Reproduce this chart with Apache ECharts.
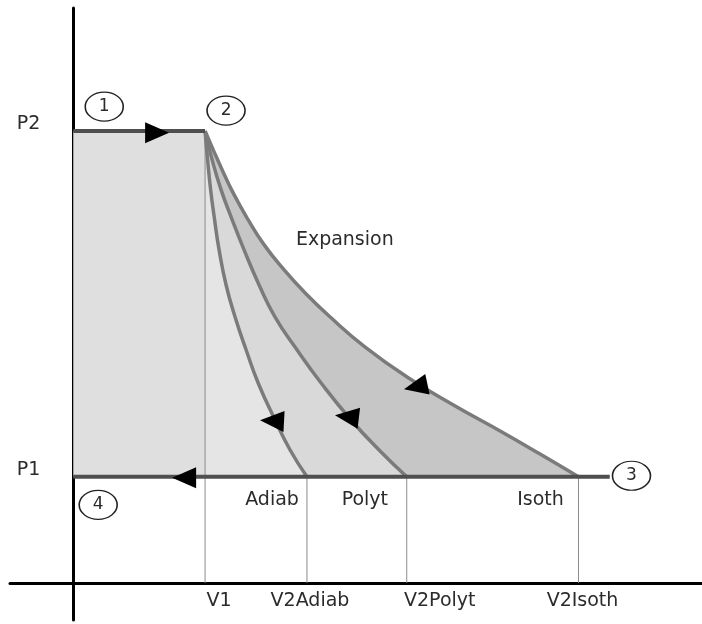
<!DOCTYPE html>
<html>
<head>
<meta charset="utf-8">
<title>P-V expansion diagram</title>
<script src="https://cdn.jsdelivr.net/npm/echarts@6/dist/echarts.min.js"></script>
<style>
  html, body { margin: 0; padding: 0; background: #fff; }
  #chart { width: 702px; height: 624px; }
</style>
</head>
<body>
<div id="chart"></div>
<script>
// values, P1 = 1 and V1 = 1
const P1 = 1.0;
const P2 = 4.26;
const pressureTicks = [P1, P2];
const pressureLabels = ['P1', 'P2'];
const volumeTicks = [1.0, 1.773, 2.53, 3.833];
const volumeLabels = ['V1', 'V2Adiab', 'V2Polyt', 'V2Isoth'];

const adiabCurve = [
  [1.0, 4.26], [1.019, 3.991], [1.042, 3.708], [1.072, 3.425], [1.106, 3.142],
  [1.159, 2.811], [1.227, 2.509], [1.311, 2.198], [1.402, 1.887], [1.53, 1.538],
  [1.644, 1.255], [1.773, 1.0]
];
const polytCurve = [
  [1.0, 4.26], [1.053, 3.991], [1.121, 3.708], [1.205, 3.425], [1.295, 3.142],
  [1.409, 2.811], [1.53, 2.509], [1.697, 2.198], [1.879, 1.887], [2.106, 1.538],
  [2.318, 1.255], [2.53, 1.0]
];
const isothCurve = [
  [1.0, 4.26], [1.061, 4.085], [1.129, 3.896], [1.22, 3.66], [1.326, 3.425],
  [1.447, 3.189], [1.598, 2.953], [1.765, 2.726], [1.947, 2.509], [2.212, 2.226],
  [2.553, 1.925], [2.894, 1.67], [3.235, 1.434], [3.538, 1.217], [3.833, 1.0]
];

const isobarP2 = [[0, P2], [1.0, P2]];
const isobarP1 = [[0, P1], [4.07, P1]];

const stateNames = ['1', '2', '3', '4'];
const statePoints = [[0.235, 4.49], [1.159, 4.453], [4.235, 1.01], [0.189, 0.736]];

const arrowPoints = [[0.636, 4.245], [0.841, 0.99], [1.508, 1.528], [2.076, 1.566], [2.598, 1.849]];
const arrowAngles = [-90, 90, 87, 83, 102];

const noteNames = ['Expansion', 'Adiab', 'Polyt', 'Isoth'];
const notePoints = [[2.06, 3.236], [1.508, 0.783], [2.212, 0.783], [3.545, 0.783]];

const font = 'DejaVu Sans';
const textColor = '#2b2b2b';

// horizontal nudges so the volume labels sit like in the sketch
const volumeLabelShift = { V1: 14, V2Adiab: 3, V2Polyt: 33, V2Isoth: 4 };

const chart = echarts.init(document.getElementById('chart'));

function areaSeries(data, color, smooth) {
  return {
    type: 'line',
    data: data,
    smooth: smooth,
    symbol: 'none',
    silent: true,
    z: 1,
    lineStyle: { width: 0 },
    areaStyle: { color: color, opacity: 1, origin: P1 }
  };
}

function curveSeries(data, color, width, smooth) {
  return {
    type: 'line',
    data: data,
    smooth: smooth,
    symbol: 'none',
    silent: true,
    z: 3,
    lineStyle: { color: color, width: width }
  };
}

const dropLines = volumeTicks.map((v, i) =>
  Object.assign(curveSeries([[v, i === 0 ? P2 : P1], [v, 0]], '#8c8c8c', 1, false), { z: 2 })
);

const baseText = { fontFamily: font, fontSize: 19, color: textColor };

const option = {
  animation: false,
  grid: { left: 10, right: 0, top: 8, bottom: 4, outerBoundsMode: 'none' },
  xAxis: {
    type: 'value',
    min: -0.48,
    max: 4.77,
    axisLine: { onZero: true, lineStyle: { color: '#000', width: 3 } },
    axisTick: { show: false },
    axisLabel: { show: false },
    splitLine: { show: false }
  },
  yAxis: {
    type: 'value',
    min: -0.35,
    max: 5.42,
    axisLine: { onZero: true, lineStyle: { color: '#000', width: 3 } },
    axisTick: { show: false },
    axisLabel: { show: false },
    splitLine: { show: false }
  },
  series: [
    areaSeries(isobarP2, '#dfdfdf', false),
    areaSeries(isothCurve, '#c6c6c6', 0.5),
    areaSeries(polytCurve, '#d9d9d9', 0.5),
    areaSeries(adiabCurve, '#e5e5e5', 0.5),
    ...dropLines,
    curveSeries(adiabCurve, '#7b7b7b', 3.5, 0.5),
    curveSeries(polytCurve, '#7b7b7b', 3.5, 0.5),
    curveSeries(isothCurve, '#7b7b7b', 3.5, 0.5),
    curveSeries(isobarP2, '#4f4f4f', 4, false),
    curveSeries(isobarP1, '#4f4f4f', 4, false),
    {
      // arrow heads
      type: 'scatter',
      silent: true,
      z: 5,
      symbol: 'triangle',
      symbolSize: [21, 24],
      itemStyle: { color: '#000', opacity: 1 },
      data: arrowPoints.map((p, i) => ({ value: p, symbolRotate: arrowAngles[i] }))
    },
    {
      // numbered states
      type: 'scatter',
      silent: true,
      z: 5,
      symbol: 'path://M0,10a10,10 0 1,0 20,0a10,10 0 1,0 -20,0z',
      symbolSize: [38, 29],
      itemStyle: { color: '#fff', borderColor: '#222', borderWidth: 1.4, opacity: 1 },
      label: Object.assign({
        show: true,
        position: 'inside',
        formatter: (p) => stateNames[p.dataIndex]
      }, baseText, { fontSize: 17 }),
      data: statePoints
    },
    {
      // text notes
      type: 'scatter',
      silent: true,
      z: 5,
      symbolSize: 0,
      itemStyle: { opacity: 1 },
      label: Object.assign({
        show: true,
        position: 'inside',
        formatter: (p) => noteNames[p.dataIndex]
      }, baseText),
      data: notePoints
    },
    {
      // volume labels under the V axis
      type: 'scatter',
      silent: true,
      z: 5,
      symbolSize: 0,
      itemStyle: { opacity: 1 },
      data: volumeTicks.map((v, i) => ({
        value: [v, 0],
        label: Object.assign({
          show: true,
          position: 'bottom',
          distance: 9,
          offset: [volumeLabelShift[volumeLabels[i]], 0],
          formatter: volumeLabels[i]
        }, baseText)
      }))
    },
    {
      // pressure labels left of the P axis
      type: 'scatter',
      silent: true,
      z: 5,
      symbolSize: 0,
      itemStyle: { opacity: 1 },
      data: pressureTicks.map((p, i) => ({
        value: [0, p],
        label: Object.assign({
          show: true,
          position: 'left',
          distance: 33,
          offset: [0, -7],
          formatter: pressureLabels[i]
        }, baseText)
      }))
    }
  ]
};

chart.setOption(option);
</script>
</body>
</html>
